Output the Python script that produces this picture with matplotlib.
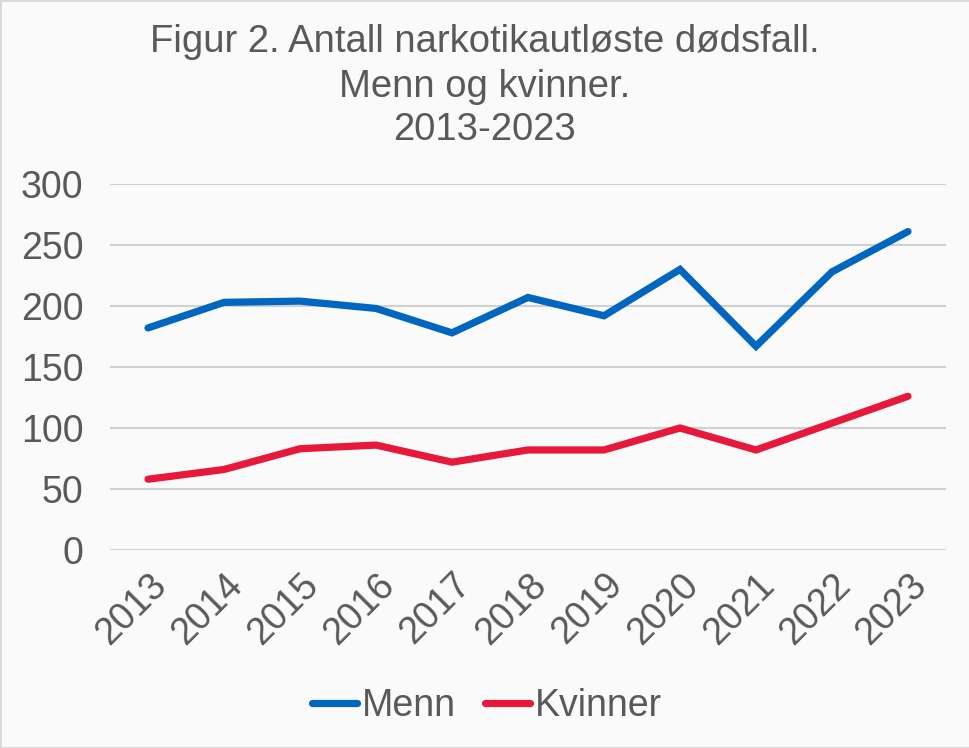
import matplotlib
matplotlib.use("Agg")
import matplotlib.pyplot as plt
from matplotlib.patches import Rectangle

years = ["2013", "2014", "2015", "2016", "2017", "2018", "2019", "2020", "2021", "2022", "2023"]
menn = [182, 203, 204, 198, 178, 207, 192, 230, 167, 228, 261]
kvinner = [58, 66, 83, 86, 72, 82, 82, 100, 82, 104, 126]
yticks = [0, 50, 100, 150, 200, 250, 300]
title_lines = ["Figur 2. Antall narkotikautløste dødsfall.", "Menn og kvinner.", "2013-2023"]

plt.rcParams['font.family'] = ['Liberation Sans', 'DejaVu Sans']
txt = '#595959'
bg = '#fafafa'

fig = plt.figure(figsize=(9.7, 7.48), dpi=100, facecolor=bg)
fig.patches.append(Rectangle((0, 0), 1, 1, transform=fig.transFigure, fill=False,
                             edgecolor='#d9d9d9', linewidth=2))
ax = fig.add_axes([110/970, 1-550/748, (946-110)/970, (550-184)/748])
ax.set_facecolor(bg)
x = list(range(len(years)))
ax.plot(x, menn, color='#0066C0', linewidth=5.2, solid_capstyle='round', solid_joinstyle='miter', label='Menn', zorder=3)
ax.plot(x, kvinner, color='#E8183A', linewidth=5.2, solid_capstyle='round', solid_joinstyle='miter', label='Kvinner', zorder=3)
ax.set_xlim(-0.5, len(years)-0.5)
ax.set_ylim(0, 300)
ax.set_yticks(yticks)
ax.set_yticklabels([str(v) for v in yticks], fontsize=27, color=txt)
ax.set_xticks(x)
ax.set_xticklabels(years, rotation=45, ha='right', rotation_mode='anchor', fontsize=27, color=txt)
ax.tick_params(axis='y', length=0, pad=19)
ax.tick_params(axis='x', length=0, pad=12)
ax.grid(axis='y', color='#d0d0d0', linewidth=1.5)
ax.set_axisbelow(True)
for s in ax.spines.values():
    s.set_visible(False)

for ypix, line in zip([42, 87, 130], title_lines):
    fig.text(0.5, 1-ypix/748, line, ha='center', va='center', fontsize=27.5, color=txt)

leg = fig.legend(loc='center', bbox_to_anchor=(487/970, 1-706/748), ncol=2, frameon=False,
                 fontsize=27, handlelength=1.2, columnspacing=0.8, handletextpad=0.12,
                 labelcolor=txt)
fig.savefig("out.png", dpi=100, facecolor=bg)
